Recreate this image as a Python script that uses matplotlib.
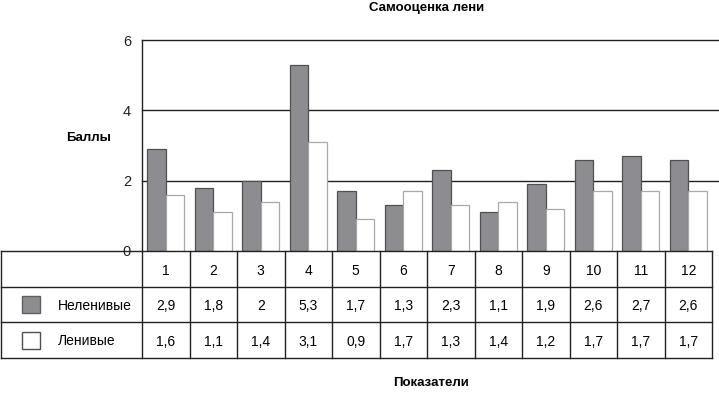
import matplotlib
matplotlib.use("Agg")
import matplotlib.pyplot as plt
from matplotlib.patches import Rectangle

plt.rcParams["font.family"] = ["Liberation Sans", "DejaVu Sans"]

categories = ["1", "2", "3", "4", "5", "6", "7", "8", "9", "10", "11", "12"]
not_lazy = [2.9, 1.8, 2.0, 5.3, 1.7, 1.3, 2.3, 1.1, 1.9, 2.6, 2.7, 2.6]
lazy = [1.6, 1.1, 1.4, 3.1, 0.9, 1.7, 1.3, 1.4, 1.2, 1.7, 1.7, 1.7]
series_names = ["Неленивые", "Ленивые"]

DARK = "#8d8d91"
W, H = 719, 393


def fmt(v):
    s = f"{v:g}"
    return s.replace(".", ",")


fig = plt.figure(figsize=(W / 100, H / 100), dpi=100)

# main bar axes
left, right, top, bottom = 142, 712, 40, 251
ax = fig.add_axes([left / W, 1 - bottom / H, (right - left) / W, (bottom - top) / H])
n = len(categories)
x = list(range(n))
bw = 0.385
col_px = (right - left) / n
ax.bar([i - bw / 2 for i in x], not_lazy, width=bw, color=DARK,
       edgecolor="#505050", linewidth=0.9, zorder=3)
ax.bar([i + bw / 2 for i in x], lazy, width=bw, color="white",
       edgecolor="#a8a8a8", linewidth=0.9, zorder=3)
ax.set_xlim(-0.5, n - 0.5)
ax.set_ylim(0, 6)
ax.set_yticks([0, 2, 4, 6])
ax.set_yticklabels(["0", "2", "4", "6"], fontsize=10.5, color="#222")
ax.tick_params(axis="y", length=0, pad=8)
ax.set_xticks([])
# gridlines run a little past the table, to the right edge of the image
grid_end = n - 0.5 + (W - right) / col_px
for y in [2, 4, 6]:
    ax.plot([-0.5, grid_end], [y, y], color="#222", linewidth=1.0,
            zorder=1, clip_on=False)
for s in ["top", "right", "bottom"]:
    ax.spines[s].set_visible(False)
ax.spines["left"].set_color("#222")
ax.spines["left"].set_linewidth(1.0)

fig.text(427 / W, 1 - 8 / H, "Самооценка лени", ha="center", va="center",
         fontsize=9.5, fontweight="bold")
fig.text(89 / W, 1 - 138 / H, "Баллы", ha="center", va="center",
         fontsize=9.5, fontweight="bold")
fig.text(431 / W, 1 - 383 / H, "Показатели", ha="center", va="center",
         fontsize=9.5, fontweight="bold")

# data table below the bars
t_left, t_top, t_bottom = 1, 251, 358
label_w = (left - t_left) / col_px
tax = fig.add_axes([t_left / W, 1 - t_bottom / H, (right - t_left) / W, (t_bottom - t_top) / H])
tax.set_xlim(-0.5 - label_w, n - 0.5)
tax.set_ylim(0, 3)
tax.axis("off")
lc = "#222"
for yy in [0, 1, 2, 3]:
    tax.plot([-0.5 - label_w, n - 0.5], [yy, yy], color=lc, lw=1.0, clip_on=False)
for i in range(n + 1):
    tax.plot([i - 0.5, i - 0.5], [0, 3], color=lc, lw=1.0, clip_on=False)
tax.plot([-0.5 - label_w] * 2, [0, 3], color=lc, lw=1.0, clip_on=False)

for i, c in enumerate(categories):
    tax.text(i, 2.45, c, ha="center", va="center", fontsize=10)
    tax.text(i, 1.45, fmt(not_lazy[i]), ha="center", va="center", fontsize=10)
    tax.text(i, 0.45, fmt(lazy[i]), ha="center", va="center", fontsize=10)

sw_x = -0.5 - label_w + 21 / col_px
sw_w = 18 / col_px
for row, (name, fc, ec) in enumerate([(series_names[0], DARK, "#606060"),
                                      (series_names[1], "white", "#505050")]):
    yc = 1.5 - row
    tax.add_patch(Rectangle((sw_x, yc - 0.24), sw_w, 0.48, facecolor=fc,
                            edgecolor=ec, lw=1.0, clip_on=False))
    tax.text(-0.5 - label_w + 57 / col_px, yc - 0.03, name, ha="left", va="center",
             fontsize=10)

fig.savefig("out.png", dpi=100)
